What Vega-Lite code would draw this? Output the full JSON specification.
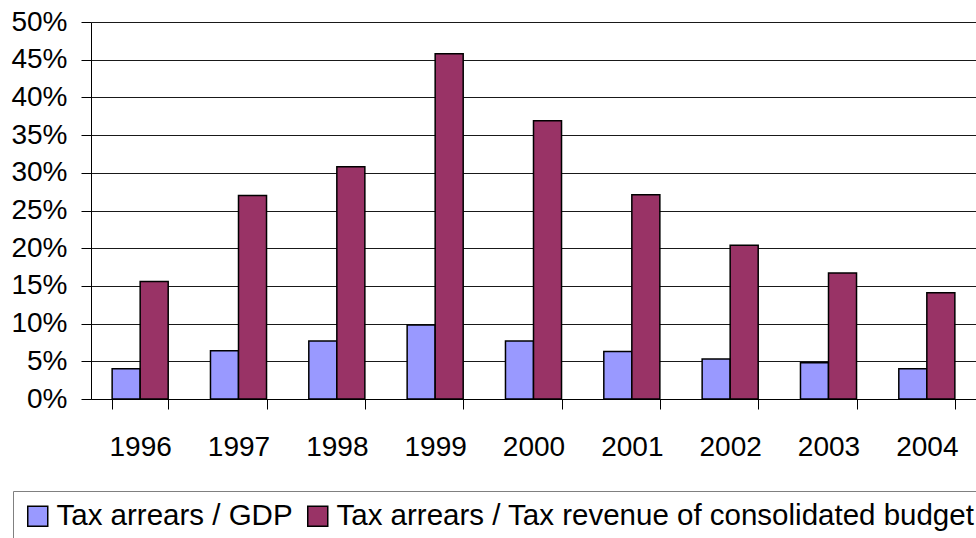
{
  "$schema": "https://vega.github.io/schema/vega-lite/v6.json",
  "autosize": {"type": "none"},
  "padding": {"left": 91, "top": 22, "right": 0, "bottom": 139},
  "width": 885,
  "height": 377,
  "background": "white",
  "data": {
    "values": [
      {"year": "1996", "series": "Tax arrears / GDP", "value": 0.040},
      {"year": "1996", "series": "Tax arrears / Tax revenue of consolidated budget", "value": 0.156},
      {"year": "1997", "series": "Tax arrears / GDP", "value": 0.064},
      {"year": "1997", "series": "Tax arrears / Tax revenue of consolidated budget", "value": 0.270},
      {"year": "1998", "series": "Tax arrears / GDP", "value": 0.077},
      {"year": "1998", "series": "Tax arrears / Tax revenue of consolidated budget", "value": 0.308},
      {"year": "1999", "series": "Tax arrears / GDP", "value": 0.098},
      {"year": "1999", "series": "Tax arrears / Tax revenue of consolidated budget", "value": 0.458},
      {"year": "2000", "series": "Tax arrears / GDP", "value": 0.077},
      {"year": "2000", "series": "Tax arrears / Tax revenue of consolidated budget", "value": 0.369},
      {"year": "2001", "series": "Tax arrears / GDP", "value": 0.063},
      {"year": "2001", "series": "Tax arrears / Tax revenue of consolidated budget", "value": 0.271},
      {"year": "2002", "series": "Tax arrears / GDP", "value": 0.053},
      {"year": "2002", "series": "Tax arrears / Tax revenue of consolidated budget", "value": 0.204},
      {"year": "2003", "series": "Tax arrears / GDP", "value": 0.048},
      {"year": "2003", "series": "Tax arrears / Tax revenue of consolidated budget", "value": 0.167},
      {"year": "2004", "series": "Tax arrears / GDP", "value": 0.040},
      {"year": "2004", "series": "Tax arrears / Tax revenue of consolidated budget", "value": 0.141}
    ]
  },
  "mark": {"type": "bar", "stroke": "black", "strokeWidth": 1.5},
  "encoding": {
    "x": {
      "field": "year",
      "type": "ordinal",
      "scale": {"paddingInner": 0.43, "paddingOuter": 0.215},
      "axis": {
        "title": null,
        "labelAngle": 0,
        "tickBand": "extent",
        "tickSize": 10,
        "tickColor": "black",
        "domainColor": "black",
        "labelPadding": 24,
        "labelFontSize": 28,
        "labelFont": "Liberation Sans",
        "labelColor": "black"
      }
    },
    "xOffset": {
      "field": "series",
      "type": "nominal",
      "sort": ["Tax arrears / GDP", "Tax arrears / Tax revenue of consolidated budget"],
      "scale": {"paddingInner": 0, "paddingOuter": 0}
    },
    "y": {
      "field": "value",
      "type": "quantitative",
      "scale": {"domain": [0, 0.5], "nice": false},
      "axis": {
        "title": null,
        "format": ".0%",
        "values": [0, 0.05, 0.1, 0.15, 0.2, 0.25, 0.3, 0.35, 0.4, 0.45, 0.5],
        "grid": true,
        "gridColor": "black",
        "gridOpacity": 0.9,
        "gridWidth": 1.2,
        "tickSize": 10,
        "tickColor": "black",
        "domainColor": "black",
        "labelPadding": 14,
        "labelFontSize": 28,
        "labelFont": "Liberation Sans",
        "labelColor": "black"
      }
    },
    "color": {
      "field": "series",
      "type": "nominal",
      "scale": {
        "domain": ["Tax arrears / GDP", "Tax arrears / Tax revenue of consolidated budget"],
        "range": ["#9999FF", "#993366"]
      },
      "legend": {
        "title": null,
        "orient": "none",
        "legendX": -78,
        "legendY": 469,
        "direction": "horizontal",
        "columns": 2,
        "columnPadding": 10,
        "padding": 10,
        "strokeColor": "#808080",
        "fillColor": "white",
        "symbolType": "square",
        "symbolSize": 400,
        "symbolStrokeColor": "black",
        "symbolStrokeWidth": 1.5,
        "symbolOpacity": 1,
        "labelOffset": 4,
        "labelFontSize": 29.5,
        "labelFont": "Liberation Sans",
        "labelColor": "black",
        "labelLimit": 1000
      }
    }
  },
  "config": {
    "view": {"stroke": null},
    "axis": {"domainWidth": 1, "tickWidth": 1}
  }
}
